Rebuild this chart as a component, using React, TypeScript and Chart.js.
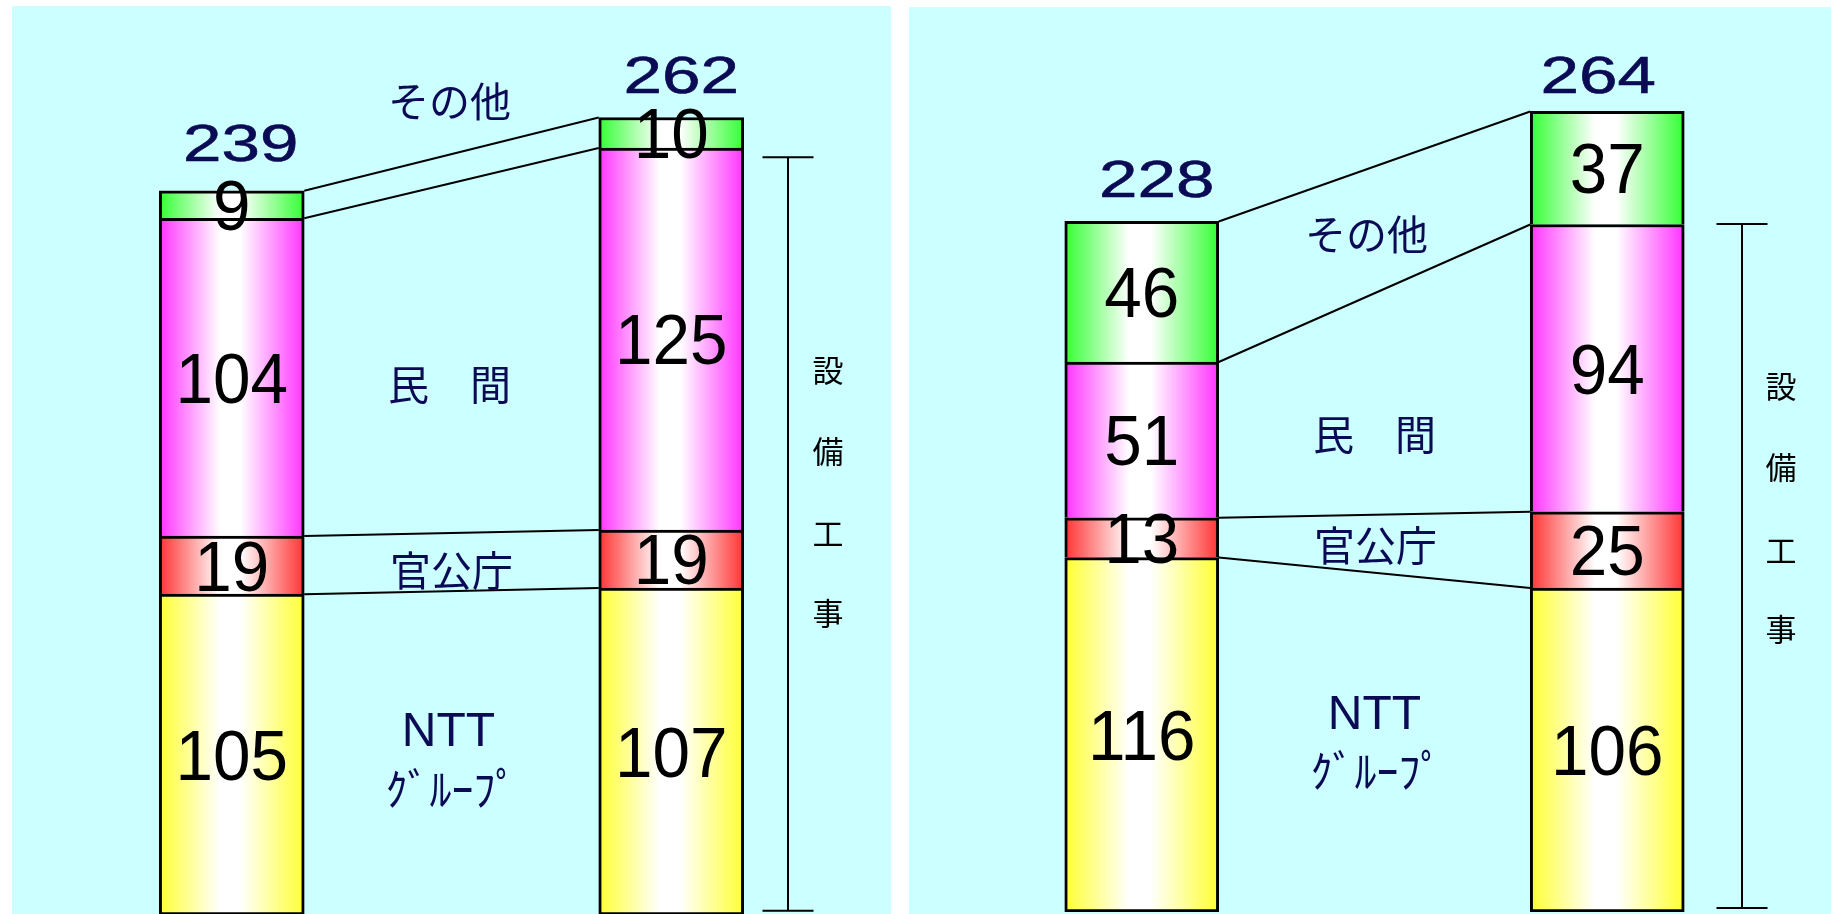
import React, { useEffect, useRef } from "react";
import { Chart, registerables } from "chart.js";

Chart.register(...registerables);

// ---------- data ----------
const categories = ["前期", "当期"];
const seriesNames = ["NTTグループ", "官公庁", "民間", "その他"];

const leftNtt = [105, 107];
const leftGov = [19, 19];
const leftPrivate = [104, 125];
const leftOther = [9, 10];
const leftTotals = [239, 262];

const rightNtt = [116, 106];
const rightGov = [13, 25];
const rightPrivate = [51, 94];
const rightOther = [46, 37];
const rightTotals = [228, 264];

const segmentLabels = ["その他", "民　間", "官公庁", "NTT", "ｸﾞﾙｰﾌﾟ"];
const bracketChars = ["設", "備", "工", "事"];

// ---------- styles ----------
const CYAN = "#ccffff";
const NAVY = "#0b0b55";
const SERIES_COLORS = ["#ffff33", "#ff3333", "#ff33ff", "#33ff33"];

type Layout = {
  left: number;
  top: number;
  width: number;
  height: number;
  padTop: number;
  padBottom: number;
  barThickness: number;
  totalDx: number[];
  totalDy: number[];
  labelY: number[];
  labelDx: number[];
  bracketX: number;
  bracketFrom: number;
  bracketTo: number;
  vTextX: number;
  vTextY: number[];
};

const leftLayout: Layout = {
  left: 12,
  top: 6,
  width: 879,
  height: 924,
  padTop: 29,
  padBottom: 15,
  barThickness: 145,
  totalDx: [9, 10],
  totalDy: [48, 43],
  labelY: [266.4, 173.8, 112.9, 60.2, 41.2],
  labelDx: [-2, -2, 0, -3, 0],
  bracketX: 776,
  bracketFrom: 1.4,
  bracketTo: 248,
  vTextX: 816,
  vTextY: [364, 445, 527, 607],
};

const rightLayout: Layout = {
  left: 909,
  top: 7,
  width: 931,
  height: 924,
  padTop: 25,
  padBottom: 19,
  barThickness: 154,
  totalDx: [15, -9],
  totalDy: [43, 37],
  labelY: [221.6, 156.4, 120.1, 64.8, 46.1],
  labelDx: [-8, 0, 1, 0, 2],
  bracketX: 833,
  bracketFrom: 1.3,
  bracketTo: 225.2,
  vTextX: 872,
  vTextY: [379, 460, 543, 622],
};

function makeGradient(chart: any, dataIndex: number, w: number, color: string) {
  const xs = chart.scales && chart.scales.x;
  if (!xs || dataIndex == null) return color;
  const cx = xs.getPixelForValue(dataIndex);
  if (!isFinite(cx)) return color;
  const g = chart.ctx.createLinearGradient(cx - w / 2, 0, cx + w / 2, 0);
  g.addColorStop(0, color);
  g.addColorStop(0.42, "#ffffff");
  g.addColorStop(0.56, "#ffffff");
  g.addColorStop(1, color);
  return g;
}

const decoPlugin = {
  id: "deco",
  beforeDraw(chart: any) {
    const ctx = chart.ctx;
    ctx.save();
    ctx.fillStyle = CYAN;
    ctx.fillRect(0, 0, chart.width, chart.height);
    ctx.restore();
  },
  afterDatasetsDraw(chart: any, _args: any, opts: any) {
    const ctx = chart.ctx;
    const L: Layout = opts.layout;
    const totals: number[] = opts.totals;
    const ys = chart.scales.y;
    const area = chart.chartArea;
    const metas = [0, 1, 2, 3].map((i) => chart.getDatasetMeta(i));

    ctx.save();
    // connector lines for 官公庁 (1) and その他 (3)
    ctx.strokeStyle = "#000000";
    ctx.lineWidth = 2;
    [1, 3].forEach((k) => {
      const e0 = metas[k].data[0] as any;
      const e1 = metas[k].data[1] as any;
      const x0 = e0.x + e0.width / 2;
      const x1 = e1.x - e1.width / 2;
      ctx.beginPath();
      ctx.moveTo(x0, e0.y);
      ctx.lineTo(x1, e1.y);
      ctx.moveTo(x0, e0.base);
      ctx.lineTo(x1, e1.base);
      ctx.stroke();
    });

    // segment value labels
    const segSize = 71;
    ctx.fillStyle = "#000000";
    ctx.font = `${segSize}px "Liberation Sans", Arial, sans-serif`;
    ctx.textAlign = "center";
    ctx.textBaseline = "alphabetic";
    metas.forEach((meta, k) => {
      meta.data.forEach((el: any, i: number) => {
        const v = chart.data.datasets[k].data[i];
        const cy = (el.y + el.base) / 2;
        ctx.save();
        ctx.translate(el.x, cy + segSize * 0.358);
        ctx.scale(0.95, 1);
        ctx.fillText(String(v), 0, 0);
        ctx.restore();
      });
    });

    // totals
    const totSize = 52;
    ctx.fillStyle = NAVY;
    ctx.strokeStyle = NAVY;
    ctx.lineWidth = 0.6;
    ctx.font = `${totSize}px "Liberation Sans", Arial, sans-serif`;
    metas[3].data.forEach((el: any, i: number) => {
      ctx.save();
      ctx.translate(el.x + L.totalDx[i], el.y - L.totalDy[i]);
      ctx.scale(1.33, 1);
      ctx.fillText(String(totals[i]), 0, totSize * 0.358);
      ctx.strokeText(String(totals[i]), 0, totSize * 0.358);
      ctx.restore();
    });

    // category labels between bars
    const midX = (metas[0].data[0].x + metas[0].data[1].x) / 2;
    ctx.textBaseline = "middle";
    segmentLabels.forEach((t, j) => {
      const y = ys.getPixelForValue(L.labelY[j]);
      if (t === "NTT") {
        ctx.font = `48px "Liberation Sans", Arial, sans-serif`;
        ctx.fillText(t, midX + L.labelDx[j], y + 2);
      } else if (t === "ｸﾞﾙｰﾌﾟ") {
        ctx.font = `44px "Noto Sans CJK JP", sans-serif`;
        ctx.fillText(t, midX + L.labelDx[j], y);
      } else {
        ctx.font = `41px "Noto Sans CJK JP", sans-serif`;
        ctx.fillText(t, midX + L.labelDx[j], y);
      }
    });

    // bracket
    const bx = area.left + L.bracketX;
    const yTop = ys.getPixelForValue(L.bracketTo);
    const yBot = ys.getPixelForValue(L.bracketFrom);
    ctx.strokeStyle = "#000000";
    ctx.lineWidth = 2;
    ctx.beginPath();
    ctx.moveTo(bx, yTop);
    ctx.lineTo(bx, yBot);
    ctx.moveTo(bx - 25.5, yTop);
    ctx.lineTo(bx + 25.5, yTop);
    ctx.moveTo(bx - 25.5, yBot);
    ctx.lineTo(bx + 25.5, yBot);
    ctx.stroke();

    // vertical text
    ctx.fillStyle = "#000000";
    ctx.font = `31px "Noto Sans CJK JP", sans-serif`;
    ctx.textBaseline = "middle";
    bracketChars.forEach((c, j) => {
      ctx.fillText(c, area.left + L.vTextX, L.vTextY[j]);
    });
    ctx.restore();
  },
};

function buildConfig(series: number[][], totals: number[], L: Layout): any {
  return {
    type: "bar",
    data: {
      labels: categories,
      datasets: series.map((vals, k) => ({
        label: seriesNames[k],
        data: vals,
        barThickness: L.barThickness,
        borderColor: "#000000",
        borderWidth: 3,
        borderSkipped: k === 0 ? false : "start",
        backgroundColor: (c: any) =>
          makeGradient(c.chart, c.dataIndex, L.barThickness, SERIES_COLORS[k]),
      })),
    },
    options: {
      responsive: false,
      animation: false,
      devicePixelRatio: 1,
      layout: {
        padding: { top: L.padTop, bottom: L.padBottom, left: 0, right: 0 },
      },
      scales: {
        x: { stacked: true, display: false },
        y: { stacked: true, display: false, min: 0, max: 288 },
      },
      plugins: {
        legend: { display: false },
        tooltip: { enabled: false },
        deco: { layout: L, totals },
      },
    },
    plugins: [decoPlugin],
  };
}

function Panel({ series, totals, layout }: { series: number[][]; totals: number[]; layout: Layout }) {
  const ref = useRef<HTMLCanvasElement | null>(null);
  useEffect(() => {
    if (!ref.current) return;
    const chart = new Chart(ref.current, buildConfig(series, totals, layout));
    return () => chart.destroy();
  }, []);
  return (
    <canvas
      ref={ref}
      width={layout.width}
      height={layout.height}
      style={{
        position: "absolute",
        left: layout.left,
        top: layout.top,
        width: layout.width,
        height: layout.height,
        display: "block",
      }}
    />
  );
}

export default function App() {
  return (
    <div
      style={{
        position: "fixed",
        left: 0,
        top: 0,
        width: 1831,
        height: 914,
        overflow: "hidden",
        background: "#ffffff",
      }}
    >
      <Panel
        series={[leftNtt, leftGov, leftPrivate, leftOther]}
        totals={leftTotals}
        layout={leftLayout}
      />
      <Panel
        series={[rightNtt, rightGov, rightPrivate, rightOther]}
        totals={rightTotals}
        layout={rightLayout}
      />
    </div>
  );
}
